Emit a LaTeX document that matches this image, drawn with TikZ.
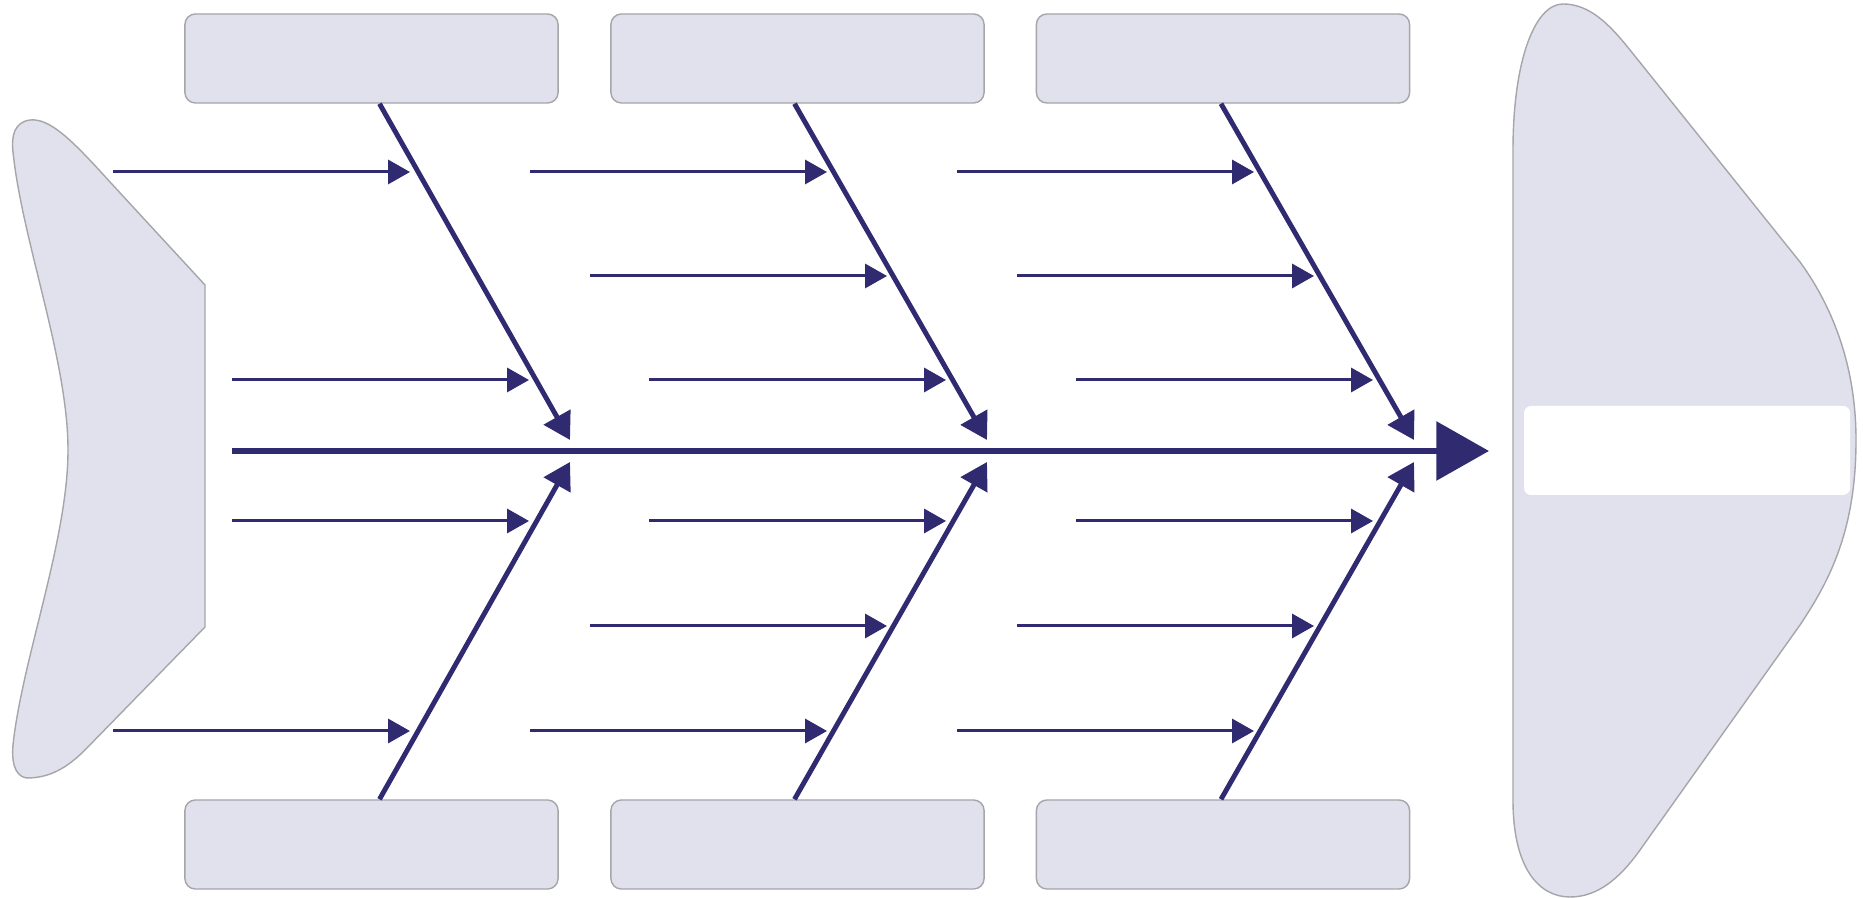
\documentclass[tikz,border=0pt]{standalone}
\usepackage{tikz}
\usetikzlibrary{arrows.meta,positioning,calc}
\definecolor{bone}{RGB}{48,42,112}
\definecolor{lilac}{RGB}{225,225,237}
\definecolor{rim}{RGB}{165,165,170}
\tikzstyle{causebox} = [draw=rim, line width=0.4pt, fill=lilac, rounded corners=3pt, minimum width=3.73cm, minimum height=0.89cm, inner sep=0pt]
\tikzstyle{outline} = [draw=rim, line width=0.4pt, fill=lilac]
\tikzstyle{twig} = [-{Triangle[length=6.2pt,width=6.8pt]}, bone, line width=0.85pt]
\tikzstyle{rib} = [-{Triangle[length=7.5pt,width=8.5pt]}, bone, line width=1.4pt]
\tikzstyle{spine} = [-{Triangle[length=15pt,width=16.5pt]}, bone, line width=1.8pt]

\begin{document}
\begin{tikzpicture}[x=0.01cm, y=-0.01cm]
\useasboundingbox (0,0) rectangle (1863,898);

% tail
\draw[outline] (205,285) -- (110,182) .. controls (72,140) and (50,118) .. (30,120)
  .. controls (15,122) and (11,135) .. (13,152)
  .. controls (22,240) and (68,360) .. (68,450) .. controls (68,540) and (22,660) .. (13,745)
  .. controls (11,768) and (18,779) .. (30,778) .. controls (45,777) and (62,773) .. (85,750)
  -- (205,627) -- cycle;

% head
\draw[outline] (1513,150) .. controls (1513,60) and (1535,4) .. (1563,4)
  .. controls (1590,4) and (1610,25) .. (1630,50) -- (1800,262)
  .. controls (1835,310) and (1856,370) .. (1856,440) .. controls (1856,530) and (1830,580) .. (1800,625)
  -- (1640,850) .. controls (1620,878) and (1598,897) .. (1570,897)
  .. controls (1540,897) and (1513,870) .. (1513,800) -- cycle;
\fill[white, rounded corners=2pt] (1524,406) rectangle (1850,495);

% cause boxes
\node[causebox] (c1) at (371.5,58.5) {};
\node[causebox] (c2) at (797.5,58.5) {};
\node[causebox] (c3) at (1223,58.5) {};
\node[causebox] (e1) at (371.5,844.5) {};
\node[causebox] (e2) at (797.5,844.5) {};
\node[causebox] (e3) at (1223,844.5) {};

% spine
\coordinate (s0) at (232,451);
\coordinate (s1) at (1489,451);
\draw[spine] (s0) -- (s1);

% ribs
\foreach \t/\d [count=\i] in {570/8, 987/-3, 1414/-2} {
  \coordinate (t\i) at (\t,440);
  \coordinate (b\i) at (\t,462);
  \draw[rib] ([xshift=\d*0.01cm]c\i.south) -- (t\i);
  \draw[rib] ([xshift=\d*0.01cm]e\i.north) -- (b\i);
}

% small causes
\foreach \t [count=\i] in {570,987,1414} {
  \foreach \y/\a/\b [count=\j] in {172/457/160, 731/457/160, 380/338/41, 521/338/41} {
    \coordinate (tw\i\j a) at (\t-\a,\y);
    \coordinate (tw\i\j b) at (\t-\b,\y);
    \draw[twig] (tw\i\j a) -- (tw\i\j b);
  }
}
\foreach \t [count=\i] in {987,1414} {
  \foreach \y [count=\j] in {276,626} {
    \coordinate (tx\i\j a) at (\t-397,\y);
    \coordinate (tx\i\j b) at (\t-100,\y);
    \draw[twig] (tx\i\j a) -- (tx\i\j b);
  }
}
\end{tikzpicture}
\end{document}
